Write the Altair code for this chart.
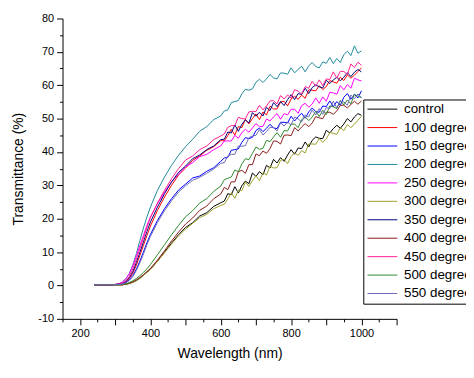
import altair as alt
import pandas as pd

# Wavelength grid (nm)
wl = [240, 260, 280, 290, 300, 310, 320, 330, 340, 350, 360, 370, 380, 390, 400,
      420, 440, 460, 480, 500, 520, 540, 560, 580, 600,
      610, 620, 630, 640, 650, 660, 670, 680, 690, 700,
      710, 720, 730, 740, 750, 760, 770, 780, 790, 800,
      810, 820, 830, 840, 850, 860, 870, 880, 890, 900,
      910, 920, 930, 940, 950, 960, 970, 980, 990, 1000]

control = [0.2, 0.2, 0.2, 0.2, 0.2, 0.2, 0.2, 0.4, 0.6, 1.0, 1.5, 2.2, 3.1, 4.0, 4.9,
           7.3, 10.0, 12.7, 15.2, 17.4, 18.8, 20.8, 21.8, 23.7, 24.8,
           25.3, 27.5, 27.2, 29.6, 27.7, 29.9, 31.3, 30.5, 33.7, 32.7,
           34.1, 33.2, 36.0, 35.2, 37.8, 36.7, 38.3, 37.2, 39.1, 40.7,
           39.3, 41.2, 41.0, 43.0, 41.5, 43.5, 44.5, 44.1, 44.0, 46.5,
           45.7, 47.0, 48.0, 47.1, 48.4, 50.0, 49.0, 50.5, 51.5, 51.0]
d100 = [0.2, 0.2, 0.2, 0.2, 0.3, 0.4, 0.6, 1.1, 2.1, 3.7, 6.1, 9.0, 12.0, 15.0, 17.8,
        22.5, 26.5, 30.0, 33.1, 35.2, 37.5, 38.8, 40.5, 41.6, 43.4,
        43.3, 44.9, 46.8, 45.1, 47.6, 47.3, 49.8, 48.4, 50.0, 51.4,
        49.7, 52.0, 51.1, 53.7, 52.9, 52.9, 55.0, 55.2, 53.8, 55.9,
        56.7, 55.8, 57.0, 56.1, 58.6, 58.5, 58.3, 59.9, 58.7, 59.6,
        61.4, 61.0, 60.6, 62.4, 61.4, 63.1, 62.1, 63.0, 64.1, 65.2]
d150 = [0.2, 0.2, 0.2, 0.2, 0.3, 0.3, 0.5, 0.9, 1.7, 3.0, 4.9, 7.3, 10.0, 12.8, 15.3,
        19.5, 23.0, 26.0, 28.6, 30.4, 32.2, 32.8, 34.2, 35.3, 37.2,
        38.2, 38.4, 40.5, 40.7, 40.9, 42.9, 44.3, 44.0, 44.4, 46.4,
        47.2, 46.1, 47.1, 48.3, 47.2, 47.0, 48.9, 48.9, 48.7, 50.7,
        49.3, 50.6, 51.6, 50.1, 52.0, 53.2, 52.1, 51.9, 53.8, 53.6,
        55.3, 53.6, 55.1, 54.0, 56.4, 57.5, 55.8, 57.3, 56.2, 58.3]
d200 = [0.2, 0.2, 0.2, 0.2, 0.3, 0.5, 1.0, 2.0, 3.6, 6.2, 9.5, 13.5, 17.2, 20.5, 23.5,
        28.5, 32.5, 36.0, 39.0, 41.6, 43.8, 46.2, 47.6, 49.7, 50.8,
        52.3, 52.6, 54.8, 55.1, 55.4, 57.4, 58.8, 58.5, 58.9, 60.9,
        61.8, 60.8, 61.9, 63.2, 62.2, 61.9, 63.7, 63.6, 63.3, 65.2,
        63.7, 64.8, 65.7, 64.0, 65.8, 66.8, 65.6, 65.2, 67.0, 66.6,
        68.3, 66.5, 68.0, 66.8, 69.2, 70.2, 68.9, 71.8, 69.6, 70.3]
d250 = [0.2, 0.2, 0.2, 0.2, 0.3, 0.5, 1.0, 2.0, 3.5, 5.9, 8.9, 12.0, 15.0, 18.0, 20.5,
        24.5, 28.0, 31.0, 33.4, 35.6, 36.8, 38.6, 39.3, 40.7, 41.8,
        43.3, 43.3, 43.3, 45.0, 44.1, 45.8, 46.8, 45.9, 47.2, 48.5,
        47.6, 47.7, 49.9, 49.3, 50.5, 51.5, 49.8, 51.5, 51.1, 52.8,
        52.8, 51.6, 53.9, 54.6, 53.4, 54.4, 56.2, 54.6, 56.5, 55.2,
        57.9, 57.7, 57.3, 59.9, 58.6, 60.2, 59.1, 62.1, 61.6, 61.3]
d300 = [0.2, 0.2, 0.2, 0.2, 0.2, 0.2, 0.2, 0.3, 0.6, 0.9, 1.4, 2.1, 3.0, 3.9, 4.8,
        7.2, 9.8, 12.4, 14.9, 16.9, 18.6, 20.3, 21.3, 23.0, 24.0,
        24.3, 25.9, 27.8, 26.1, 28.6, 28.4, 31.0, 29.7, 31.4, 32.9,
        31.4, 33.8, 33.1, 35.8, 35.2, 35.3, 37.5, 37.8, 36.5, 38.7,
        39.7, 39.0, 40.4, 39.7, 42.4, 42.4, 42.3, 44.0, 42.9, 43.9,
        45.8, 45.6, 45.3, 47.3, 46.4, 48.2, 47.3, 48.3, 49.5, 50.7]
d350 = [0.2, 0.2, 0.2, 0.2, 0.3, 0.4, 0.6, 1.2, 2.4, 4.2, 6.9, 9.9, 13.0, 16.2, 19.0,
        23.5, 27.5, 31.0, 33.9, 35.8, 38.0, 39.1, 40.7, 41.8, 43.7,
        43.8, 46.0, 45.7, 48.1, 46.2, 48.3, 49.6, 48.7, 51.8, 50.7,
        51.9, 50.8, 53.4, 52.4, 54.8, 53.6, 55.1, 53.9, 55.7, 57.2,
        55.7, 57.5, 57.2, 59.1, 57.5, 59.3, 60.1, 59.5, 59.2, 61.5,
        60.5, 61.6, 62.4, 61.3, 62.4, 63.8, 62.6, 63.9, 64.7, 64.0]
d400 = [0.2, 0.2, 0.2, 0.2, 0.2, 0.2, 0.2, 0.4, 0.7, 1.1, 1.7, 2.4, 3.2, 4.2, 5.1,
        7.6, 10.4, 13.3, 16.0, 18.4, 20.2, 22.5, 23.8, 26.0, 27.4,
        29.4, 28.7, 31.1, 31.0, 34.1, 34.5, 33.6, 36.2, 36.2, 39.4,
        38.9, 40.3, 39.6, 41.0, 43.3, 43.2, 42.4, 45.0, 45.1, 44.9,
        47.3, 46.3, 47.5, 48.5, 47.6, 48.7, 50.6, 50.2, 50.0, 51.9,
        51.9, 51.3, 52.3, 54.0, 54.0, 53.2, 54.2, 55.2, 54.3, 55.3]
d450 = [0.2, 0.2, 0.2, 0.2, 0.3, 0.4, 0.7, 1.4, 2.7, 5.0, 7.9, 11.0, 14.2, 17.4, 20.4,
        24.7, 28.5, 32.0, 35.0, 37.6, 38.8, 40.7, 41.8, 43.7, 44.8,
        45.4, 47.4, 47.9, 47.9, 50.4, 50.0, 49.9, 52.0, 52.2, 52.1,
        54.0, 52.6, 53.8, 55.3, 55.4, 54.4, 56.9, 55.9, 57.1, 56.2,
        58.7, 58.2, 57.4, 59.6, 59.1, 61.2, 59.7, 61.6, 59.9, 61.9,
        61.7, 64.0, 62.1, 64.2, 64.1, 63.2, 66.4, 65.3, 66.9, 66.0]
d500 = [0.2, 0.2, 0.2, 0.2, 0.2, 0.2, 0.3, 0.5, 0.9, 1.4, 2.1, 2.9, 3.9, 5.0, 6.3,
        9.2, 12.2, 15.2, 18.0, 20.6, 22.4, 24.7, 26.0, 28.2, 29.8,
        31.7, 32.1, 32.5, 34.6, 34.1, 36.4, 38.0, 37.7, 39.6, 41.5,
        40.8, 41.1, 43.5, 43.1, 44.5, 45.8, 44.4, 46.4, 46.3, 48.3,
        48.4, 47.3, 49.7, 50.5, 49.4, 50.4, 52.2, 50.6, 52.5, 51.2,
        53.8, 53.5, 53.0, 55.5, 54.1, 55.6, 54.4, 57.3, 56.7, 56.3]
d550 = [0.2, 0.2, 0.2, 0.2, 0.2, 0.3, 0.4, 0.8, 1.5, 2.7, 4.5, 6.8, 9.4, 12.2, 14.7,
        18.9, 22.4, 25.4, 28.0, 29.9, 31.5, 32.4, 33.6, 34.9, 36.6,
        36.8, 38.8, 39.3, 39.3, 41.8, 41.7, 41.9, 44.3, 44.8, 45.0,
        46.7, 45.1, 46.1, 47.4, 47.3, 46.3, 48.8, 47.8, 49.0, 48.1,
        50.5, 49.9, 49.0, 51.1, 50.5, 52.6, 51.1, 53.0, 51.3, 53.3,
        53.0, 55.2, 53.2, 55.2, 55.0, 54.0, 57.1, 55.9, 57.4, 56.4]

names = ["control", "100 degree", "150 degree", "200 degree", "250 degree",
         "300 degree", "350 degree", "400 degree", "450 degree", "500 degree",
         "550 degree"]
values = [control, d100, d150, d200, d250, d300, d350, d400, d450, d500, d550]
colors = ["#000000", "#FF0000", "#0000FF", "#1F8A9C", "#FF00FF",
          "#A0A02C", "#000080", "#8B1A1A", "#FF1F8F", "#2E8B2E", "#6A6AB8"]

x_major = [200, 300, 400, 500, 600, 700, 800, 900, 1000, 1100]
x_minor = [150, 250, 350, 450, 550, 650, 750, 850, 950, 1050]
y_major = [-10, 0, 10, 20, 30, 40, 50, 60, 70, 80]
y_minor = [-5, 5, 15, 25, 35, 45, 55, 65, 75]

rows = []
for n, vals in zip(names, values):
    for w, v in zip(wl, vals):
        rows.append({"wl": w, "T": v, "s": n})
df = pd.DataFrame(rows)

FONT = "Liberation Sans"
xscale = alt.Scale(domain=[150, 1100], nice=False, zero=False)
yscale = alt.Scale(domain=[-10, 80], nice=False, zero=False)

common_axis = dict(grid=False, domainColor="black", tickColor="black",
                   labelColor="black", labelFont=FONT, labelFontSize=11,
                   titleFont=FONT, titleFontSize=14, titleFontWeight="normal",
                   titleColor="black", domainWidth=1, tickWidth=1)

lines = alt.Chart(df).mark_line(strokeWidth=1).encode(
    x=alt.X("wl:Q", scale=xscale,
            axis=alt.Axis(title="Wavelength (nm)", values=x_major, orient="bottom",
                          tickSize=6, labelPadding=3, titlePadding=8,
                          labelExpr="'' + datum.value", **common_axis)),
    y=alt.Y("T:Q", scale=yscale,
            axis=alt.Axis(title="Transmittance (%)", values=y_major, orient="left",
                          tickSize=6, labelPadding=3, titlePadding=12,
                          labelExpr="'' + datum.value", **common_axis)),
    color=alt.Color("s:N", sort=names,
                    scale=alt.Scale(domain=names, range=colors),
                    legend=alt.Legend(title=None, orient="none", legendX=303.4, legendY=81.7,
                                      symbolType="M-3,0L3,0", symbolSize=100,
                                      symbolOffset=9.5,
                                      symbolStrokeWidth=1, labelFont=FONT,
                                      labelFontSize=13.5, labelColor="black",
                                      rowPadding=3.6, padding=3, strokeColor="black",
                                      fillColor="white", labelOffset=15,
                                      labelLimit=300)),
)

minor = alt.Chart(df).mark_point(opacity=0).encode(
    x=alt.X("wl:Q", scale=xscale,
            axis=alt.Axis(title=None, values=x_minor, orient="bottom", labels=False,
                          domain=False, tickSize=3, grid=False, tickColor="black")),
    y=alt.Y("T:Q", scale=yscale,
            axis=alt.Axis(title=None, values=y_minor, orient="left", labels=False,
                          domain=False, tickSize=3, grid=False, tickColor="black")),
)

chart = alt.layer(lines, minor).resolve_axis(x="independent", y="independent").properties(
    width=337, height=303,
    autosize=alt.AutoSizeParams(type="none"),
    padding={"left": 55, "top": 9, "right": 70, "bottom": 48},
    background="white",
).configure_view(stroke=None)

chart.save("out.html", embed_options={"renderer": "svg", "actions": False})
